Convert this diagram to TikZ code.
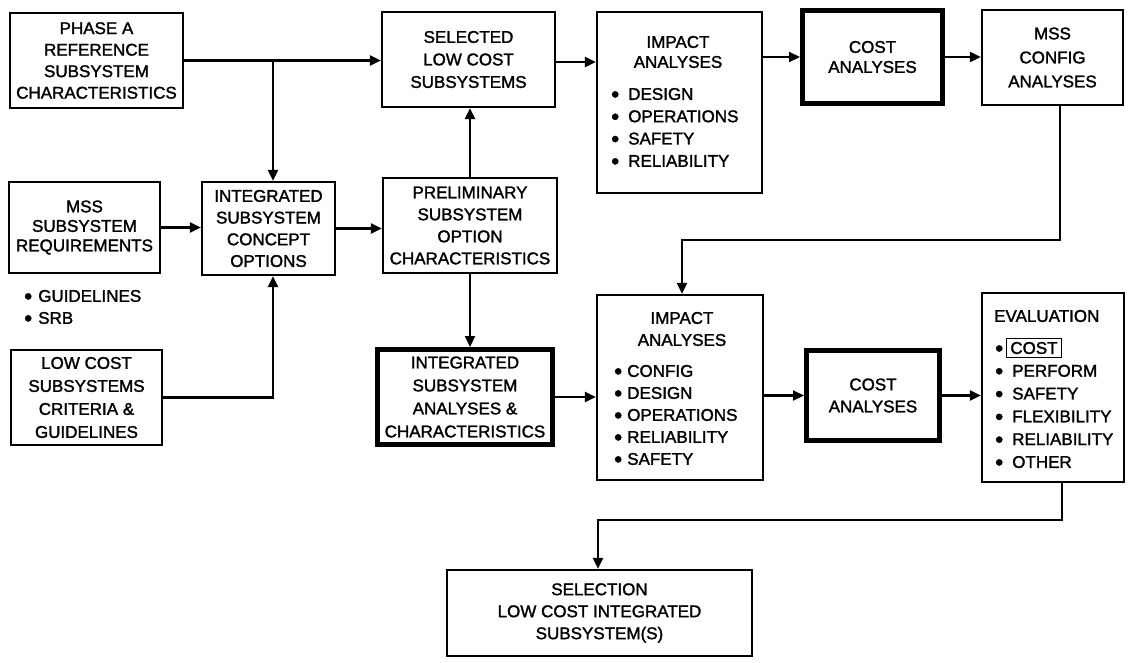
\documentclass[tikz,border=0pt]{standalone}
\usepackage{fontspec}
\newfontfamily\dfont{Liberation Sans}[FakeBold=1.6]
\usetikzlibrary{arrows.meta}
% enlarged bullet dot followed by a gap
\newcommand\bul[1][10pt]{\raisebox{-2.2pt}{\fontsize{23}{23}\selectfont\textbullet}\hspace{#1}}
\setlength\fboxsep{3pt}
\setlength\fboxrule{1.1pt}
\begin{document}
\begin{tikzpicture}[x=1pt,y=-1pt,
  lbl/.style={font={\dfont\fontsize{17}{#1}\selectfont}},
  lbl/.default=21.5,
  box/.style={draw, line width=2.2pt, inner sep=0pt, align=center, lbl},
  heavybox/.style={box, line width=5pt},
  txt/.style={inner sep=0pt, align=left, lbl=#1},
  txt/.default=22,
  arr/.style={line width=2.1pt, -{Triangle[length=11pt,width=10pt]}}]
\useasboundingbox (0,0) rectangle (1130,662);

% ---- left column
\node[box, minimum width=173pt, minimum height=95pt] (phase) at (96.5,60.5)
  {PHASE A\\REFERENCE\\SUBSYSTEM\\CHARACTERISTICS};
\node[box, minimum width=151pt, minimum height=91pt, lbl=19.5] (mss) at (84.5,227.5)
  {MSS\\SUBSYSTEM\\REQUIREMENTS};
\node[txt, anchor=west] (mssnotes) at (24,308) {\bul[6pt]GUIDELINES\\\bul[6pt]SRB};
\node[box, minimum width=151pt, minimum height=95pt, lbl=23] (low) at (86.5,397.5)
  {LOW COST\\SUBSYSTEMS\\CRITERIA \&\\GUIDELINES};

% ---- concept options
\node[box, minimum width=133pt, minimum height=93pt, lbl=21.7] (concept) at (268.5,228.5)
  {INTEGRATED\\SUBSYSTEM\\CONCEPT\\OPTIONS};

% ---- middle column
\node[box, minimum width=173pt, minimum height=95pt, lbl=22.5] (selected) at (468.5,59.5)
  {SELECTED\\LOW COST\\SUBSYSTEMS};
\node[box, minimum width=174pt, minimum height=95pt, lbl=22] (prelim) at (470,225.5)
  {PRELIMINARY\\SUBSYSTEM\\OPTION\\CHARACTERISTICS};
\node[heavybox, minimum width=175pt, minimum height=95pt, lbl=23] (integ) at (465,397)
  {INTEGRATED\\SUBSYSTEM\\ANALYSES \&\\CHARACTERISTICS};

% ---- impact analyses (upper)
\node[box, minimum width=165pt, minimum height=181pt] (impA) at (679.5,102.5) {};
\node[box, draw=none, lbl=20] (impAhead) at (678,52) {IMPACT\\ANALYSES};
\node[txt=22.3, anchor=west] (impAlist) at (611,128.5)
  {\bul[9pt]DESIGN\\\bul[9pt]OPERATIONS\\\bul[9pt]SAFETY\\\bul[9pt]RELIABILITY};

% ---- impact analyses (lower)
\node[box, minimum width=166pt, minimum height=185pt] (impB) at (680,387.5) {};
\node[box, draw=none, lbl=22] (impBhead) at (682,329) {IMPACT\\ANALYSES};
\node[txt=22, anchor=west] (impBlist) at (614,416)
  {\bul[5pt]CONFIG\\\bul[5pt]DESIGN\\\bul[5pt]OPERATIONS\\\bul[5pt]RELIABILITY\\\bul[5pt]SAFETY};

% ---- cost analyses
\node[heavybox, minimum width=140pt, minimum height=93pt, lbl=20] (costA) at (872.5,57)
  {COST\\ANALYSES};
\node[heavybox, minimum width=133pt, minimum height=90pt, lbl=22] (costB) at (873,395.5)
  {COST\\ANALYSES};

% ---- right column
\node[box, minimum width=141pt, minimum height=95pt, lbl=24] (conf) at (1052.5,57.5)
  {MSS\\CONFIG\\ANALYSES};
\node[box, minimum width=142pt, minimum height=189pt] (evalbox) at (1053,387.5) {};
\node[txt, anchor=west] (evalhead) at (994,316) {EVALUATION};
\node[txt=22.8, anchor=west] (evallist) at (995,404)
  {\bul[3pt]\fbox{COST}\\\bul[9pt]PERFORM\\\bul[9pt]SAFETY\\\bul[9pt]FLEXIBILITY\\\bul[9pt]RELIABILITY\\\bul[9pt]OTHER};

% ---- final selection
\node[box, minimum width=305pt, minimum height=86pt, lbl=22] (select) at (599.5,613)
  {SELECTION\\LOW COST INTEGRATED\\SUBSYSTEM(S)};

% ---- routing points
\coordinate (j) at (273,61);
\coordinate (r1) at (1060,240);
\coordinate (r2) at (682,240);
\coordinate (s1) at (1062,520);
\coordinate (s2) at (598,520);

% ---- connectors
\draw[arr] (phase.east) -- (phase.east -| selected.west);
\draw[arr] (j |- phase.east) -- (j |- concept.north);
\draw[arr] (mss.east) -- (mss.east -| concept.west);
\draw[arr] (low.east) -| (j |- concept.south);
\draw[arr] (concept.east) -- (concept.east -| prelim.west);
\draw[arr] (prelim.north) -- (prelim.north |- selected.south);
\draw[arr] (selected.east |- 0,62) -- (impA.west |- 0,62);
\draw[arr] (impA.east |- costA.west) -- (costA.west);
\draw[arr] (costA.east) -- (costA.east -| conf.west);
\draw[arr] (r1 |- conf.south) -- (r1) -- (r2) -- (r2 |- impB.north);
\draw[arr] (prelim.south) -- (prelim.south |- integ.north);
\draw[arr] (integ.east) -- (integ.east -| impB.west);
\draw[arr] (impB.east |- costB.west) -- (costB.west);
\draw[arr] (costB.east) -- (costB.east -| evalbox.west);
\draw[arr] (s1 |- evalbox.south) -- (s1) -- (s2) -- (s2 |- select.north);
\end{tikzpicture}
\end{document}
